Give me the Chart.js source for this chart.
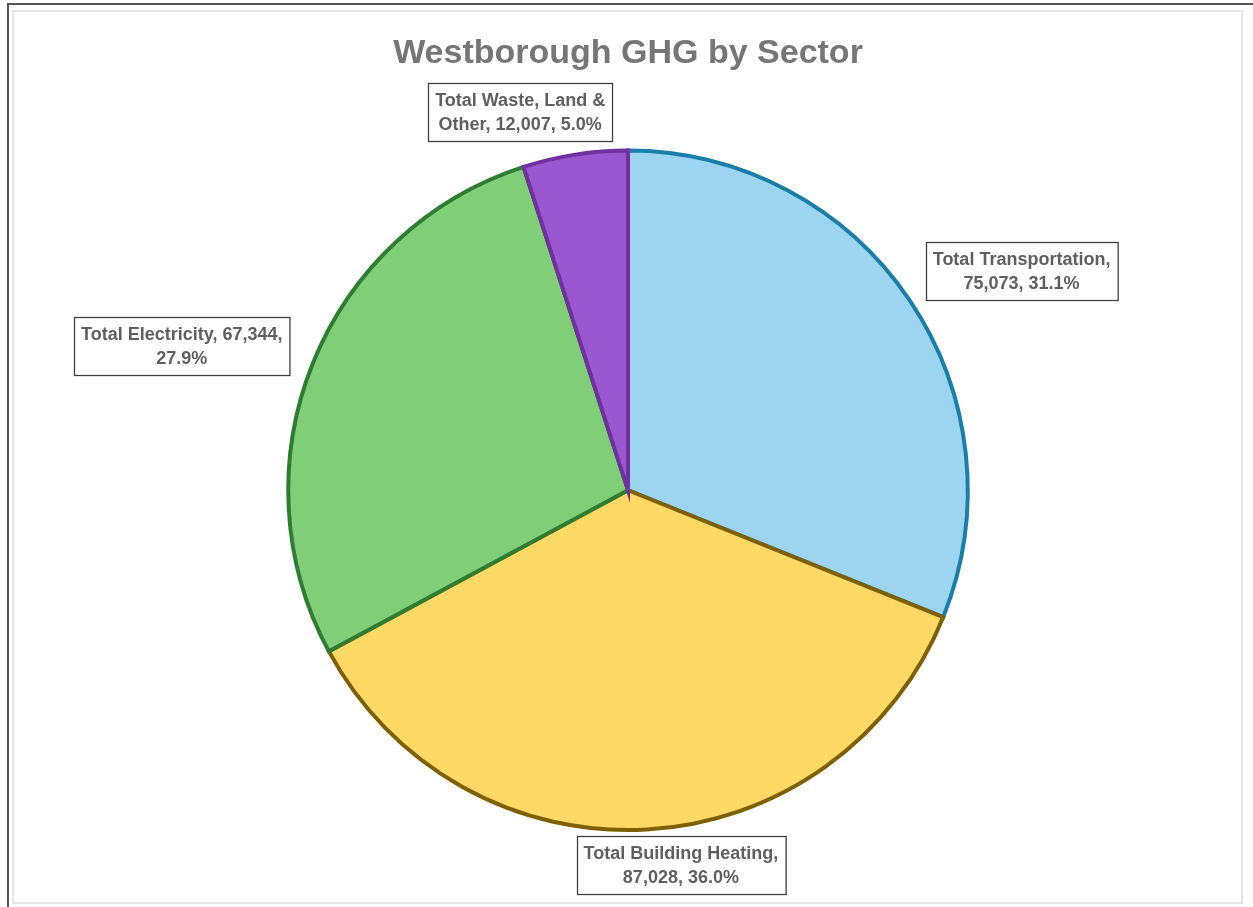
<!DOCTYPE html>
<html>
<head>
<meta charset="utf-8">
<title>Westborough GHG by Sector</title>
<script src="https://cdn.jsdelivr.net/npm/chart.js@4/dist/chart.umd.min.js"></script>
<style>
  html, body { margin: 0; padding: 0; background: #ffffff; }
  body { width: 1253px; height: 907px; position: relative; overflow: hidden; }
  .edge { position: absolute; left: 7px; top: 3px; right: 0; bottom: 0;
          border-top: 2px solid #555555; border-left: 2px solid #555555; }
  .frame { position: absolute; left: 12px; top: 10px; width: 1227px; height: 890px;
           border: 2px solid #e4e4e4; }
  #chart { position: absolute; left: 0; top: 0; }
</style>
</head>
<body>
<div class="edge"></div>
<div class="frame"></div>
<canvas id="chart" width="1253" height="907"></canvas>
<script>
// Sector emissions (MT CO2e)
const sectors = ['Total Transportation', 'Total Building Heating', 'Total Electricity', 'Total Waste, Land & Other'];
const emissions = [75073, 87028, 67344, 12007];

const fillColors = ['#9dd5f0', '#ffd966', '#80cf78', '#9b57cf'];
const edgeColors = ['#1a7fa8', '#7f6000', '#2e7d32', '#7030a0'];

// Label box offsets from the midpoint of each slice's outer edge
const labelOffsets = [[112, -29], [34, 36], [-131, -18], [-55, -43]];

const labelFont = 'bold 18px "Liberation Sans", Arial, sans-serif';

function wrapWords(ctx, text, maxWidth) {
  const words = text.split(' ');
  const lines = [];
  let cur = '';
  for (const w of words) {
    const test = cur ? cur + ' ' + w : w;
    if (cur && ctx.measureText(test).width > maxWidth) {
      lines.push(cur);
      cur = w;
    } else {
      cur = test;
    }
  }
  if (cur) lines.push(cur);
  return lines;
}

const boxLabels = {
  id: 'boxLabels',
  afterDatasetsDraw(chart) {
    const ctx = chart.ctx;
    const meta = chart.getDatasetMeta(0);
    const data = chart.data.datasets[0].data;
    const total = data.reduce((a, b) => a + b, 0);
    ctx.save();
    ctx.font = labelFont;
    meta.data.forEach((arc, i) => {
      const p = arc.getProps(['x', 'y', 'startAngle', 'endAngle', 'outerRadius'], true);
      const mid = (p.startAngle + p.endAngle) / 2;
      const ax = p.x + Math.cos(mid) * p.outerRadius;
      const ay = p.y + Math.sin(mid) * p.outerRadius;
      const cx = ax + labelOffsets[i][0];
      const cy = ay + labelOffsets[i][1];
      const pct = (data[i] / total * 100).toFixed(1) + '%';
      const text = chart.data.labels[i] + ', ' + data[i].toLocaleString('en-US') + ', ' + pct;
      const lines = wrapWords(ctx, text, 212);
      const lineH = 24;
      const padX = 7, padY = 5;
      const w = Math.max(...lines.map(l => ctx.measureText(l).width)) + padX * 2;
      const h = lines.length * lineH + padY * 2;
      const x0 = Math.round(cx - w / 2) + 0.5;
      const y0 = Math.round(cy - h / 2) + 0.5;
      ctx.fillStyle = '#ffffff';
      ctx.fillRect(x0, y0, w, h);
      ctx.strokeStyle = '#404040';
      ctx.lineWidth = 1.3;
      ctx.strokeRect(x0, y0, w, h);
      ctx.fillStyle = '#5f5f5f';
      ctx.textAlign = 'center';
      ctx.textBaseline = 'middle';
      lines.forEach((l, j) => {
        ctx.fillText(l, cx, y0 + padY + lineH * (j + 0.5) + 1);
      });
    });
    ctx.restore();
  }
};

new Chart(document.getElementById('chart'), {
  type: 'pie',
  data: {
    labels: sectors,
    datasets: [{
      data: emissions,
      backgroundColor: fillColors,
      borderColor: edgeColors,
      borderWidth: 4,
      borderJoinStyle: 'miter'
    }]
  },
  options: {
    responsive: false,
    animation: false,
    devicePixelRatio: 1,
    layout: { padding: { top: 0, bottom: 75, left: 228, right: 225 } },
    plugins: {
      legend: { display: false },
      tooltip: { enabled: false },
      title: {
        display: true,
        text: 'Westborough GHG by Sector',
        color: '#767676',
        font: { family: '"Liberation Sans", Arial, sans-serif', size: 34, weight: 'bold', lineHeight: 1.2 },
        padding: { top: 33.6, bottom: 74.1 }
      }
    }
  },
  plugins: [boxLabels]
});
</script>
</body>
</html>
